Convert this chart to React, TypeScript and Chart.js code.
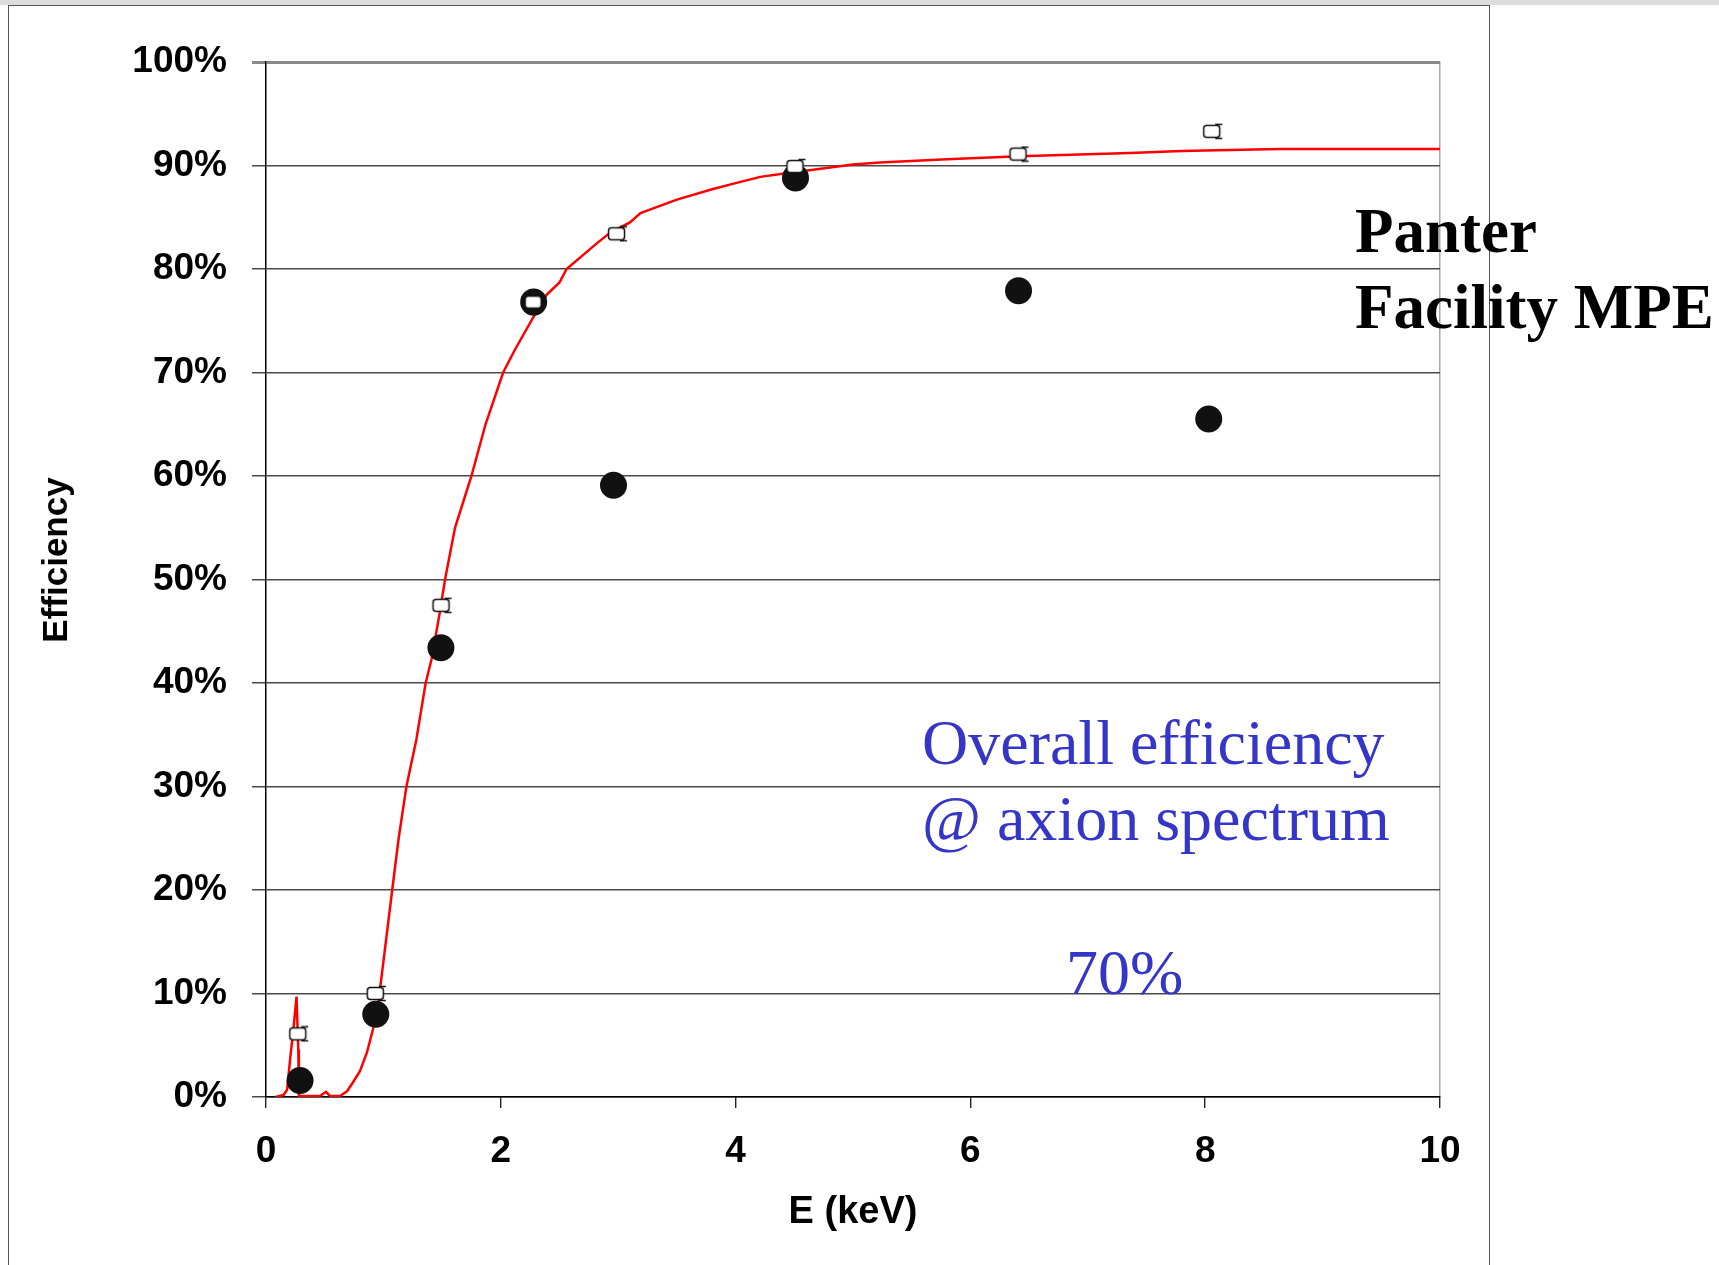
import React, { useEffect, useRef } from 'react';
import { Chart, registerables } from 'chart.js';

Chart.register(...registerables);

// ---- data ----
const curveEnergy = [
  0.08, 0.15, 0.18, 0.205, 0.233, 0.26, 0.275, 0.28, 0.46, 0.51, 0.545, 0.63, 0.69, 0.74, 0.8, 0.86,
  0.91, 0.96, 1.01, 1.075, 1.13, 1.196, 1.28, 1.36, 1.41, 1.48, 1.525, 1.61, 1.75, 1.87, 2.02, 2.12,
  2.28, 2.39, 2.5, 2.56, 2.82, 2.93, 3.1, 3.19, 3.5, 3.8, 4.0, 4.21, 4.4, 4.66, 5.0, 5.23, 5.8,
  6.42, 7.36, 7.8, 8.63, 10.0,
];
const curveEff = [
  0, 0.2, 0.7, 3.6, 6.5, 9.7, 4.6, 0.1, 0.1, 0.5, 0.1, 0.1, 0.55, 1.4, 2.5, 4.3,
  6.5, 9.4, 14.0, 20, 25, 30, 34.5, 40, 42.3, 46.8, 50, 55, 60, 65, 70, 72.2,
  75.4, 77.5, 78.7, 80.0, 82.5, 83.5, 84.5, 85.4, 86.7, 87.7, 88.3, 88.9, 89.2, 89.6, 90.1, 90.3, 90.6,
  90.9, 91.2, 91.4, 91.6, 91.6,
];
const openEnergy = [0.275, 0.935, 1.495, 2.28, 2.99, 4.51, 6.41, 8.06];
const openEff = [6.1, 10.0, 47.5, 76.8, 83.4, 89.9, 91.1, 93.3];
const filledEnergy = [0.29, 0.935, 1.49, 2.28, 2.96, 4.51, 6.41, 8.03];
const filledEff = [1.6, 8.0, 43.4, 76.8, 59.1, 88.8, 77.9, 65.5];

const xTickValues = [0, 2, 4, 6, 8, 10];
const yTickValues = [0, 10, 20, 30, 40, 50, 60, 70, 80, 90, 100];

const xTitle = 'E (keV)';
const yTitle = 'Efficiency';
const facilityLines = ['Panter', 'Facility MPE'];
const noteLines = ['Overall efficiency', '@ axion spectrum'];
const noteValue = '70%';

const W = 1719;
const H = 1265;

function makeOpenMarker(): HTMLCanvasElement {
  const c = document.createElement('canvas');
  c.width = 22;
  c.height = 17;
  const g = c.getContext('2d')!;
  g.fillStyle = '#ffffff';
  g.strokeStyle = '#111111';
  g.lineWidth = 1.5;
  g.beginPath();
  if ((g as any).roundRect) (g as any).roundRect(2.5, 2.5, 16, 12, 3);
  else g.rect(2.5, 2.5, 16, 12);
  g.fill();
  g.stroke();
  g.beginPath();
  g.moveTo(14, 1.5);
  g.lineTo(21, 1.5);
  g.moveTo(14, 15.5);
  g.lineTo(21, 15.5);
  g.stroke();
  return c;
}

const annotationPlugin = {
  id: 'annotations',
  afterDraw(chart: any) {
    const ctx = chart.ctx as CanvasRenderingContext2D;
    ctx.save();
    // y axis title
    ctx.save();
    ctx.translate(57, 560);
    ctx.rotate(-Math.PI / 2);
    ctx.font = 'bold 35px "Liberation Sans", Arial, sans-serif';
    ctx.fillStyle = '#000';
    ctx.textAlign = 'center';
    ctx.textBaseline = 'middle';
    ctx.fillText(yTitle, 0, 0);
    ctx.restore();

    ctx.textAlign = 'left';
    ctx.textBaseline = 'alphabetic';
    ctx.fillStyle = '#000';
    ctx.font = 'bold 63px "Liberation Serif", "Times New Roman", serif';
    ctx.fillText(facilityLines[0], 1355, 252);
    ctx.fillText(facilityLines[1], 1355, 328);

    ctx.fillStyle = '#3535c8';
    ctx.font = '64px "Liberation Serif", "Times New Roman", serif';
    ctx.fillText(noteLines[0], 922, 764);
    ctx.fillText(noteLines[1], 922, 840);
    ctx.fillText(noteValue, 1066, 994);
    ctx.restore();
  },
};

export default function App() {
  const canvasRef = useRef<HTMLCanvasElement | null>(null);

  useEffect(() => {
    const canvas = canvasRef.current;
    if (!canvas) return;
    const openMarker = makeOpenMarker();
    const tickFont = { family: '"Liberation Sans", Arial, sans-serif', size: 37, weight: 'bold' as const };

    const chart = new Chart(canvas, {
      type: 'scatter',
      data: {
        datasets: [
          {
            label: 'open',
            data: openEnergy.map((x, i) => ({ x, y: openEff[i] })),
            pointStyle: openMarker as any,
            pointRadius: 9,
            showLine: false,
          },
          {
            label: 'filled',
            data: filledEnergy.map((x, i) => ({ x, y: filledEff[i] })),
            pointStyle: 'circle',
            pointRadius: 13.5,
            pointBackgroundColor: '#111111',
            pointBorderColor: '#111111',
            pointBorderWidth: 0,
            showLine: false,
          },
          {
            label: 'curve',
            data: curveEnergy.map((x, i) => ({ x, y: curveEff[i] })),
            showLine: true,
            borderColor: '#ff0000',
            borderWidth: 2.5,
            pointRadius: 0,
            tension: 0,
            fill: false,
          },
        ],
      },
      options: {
        animation: false,
        responsive: true,
        maintainAspectRatio: false,
        layout: { padding: { left: 0, top: 62, right: W - 1440, bottom: 0 } },
        plugins: {
          legend: { display: false },
          tooltip: { enabled: false },
        },
        scales: {
          x: {
            type: 'linear',
            min: 0,
            max: 10,
            afterBuildTicks: (s: any) => {
              s.ticks = xTickValues.map((v) => ({ value: v }));
            },
            afterFit: (s: any) => {
              s.height = H - 1097;
            },
            ticks: {
              font: tickFont,
              color: '#000',
              padding: 22,
              maxRotation: 0,
              callback: (v: any) => String(v),
            },
            grid: {
              drawOnChartArea: true,
              color: (c: any) => (c.tick && c.tick.value === 10 ? '#a8a8a8' : 'rgba(0,0,0,0)'),
              lineWidth: 1.5,
              tickColor: '#000',
              tickLength: 11,
              tickWidth: 1.2,
            },
            border: { display: true, color: '#000', width: 1.5 },
            title: {
              display: true,
              text: xTitle,
              color: '#000',
              font: { family: '"Liberation Sans", Arial, sans-serif', size: 38, weight: 'bold' },
              padding: { top: 0, bottom: 30 },
            },
          },
          y: {
            type: 'linear',
            min: 0,
            max: 100,
            afterBuildTicks: (s: any) => {
              s.ticks = yTickValues.map((v) => ({ value: v }));
            },
            afterFit: (s: any) => {
              s.width = 266;
            },
            ticks: {
              font: tickFont,
              color: '#000',
              padding: 25,
              callback: (v: any) => v + '%',
            },
            grid: {
              drawOnChartArea: true,
              color: (c: any) => (c.tick && c.tick.value === 100 ? '#8a8a8a' : '#4a4a4a'),
              lineWidth: (c: any) => (c.tick && c.tick.value === 100 ? 3 : 1.5),
              tickLength: 14,
            },
            border: { display: true, color: '#000', width: 1.5 },
          },
        },
      },
      plugins: [annotationPlugin],
    });
    return () => chart.destroy();
  }, []);

  return (
    <div style={{ position: 'absolute', left: 0, top: 0, width: W, height: H, background: '#fff', overflow: 'hidden' }}>
      <div style={{ position: 'absolute', left: 0, top: 0, width: W, height: 5, background: '#dcdcdc' }} />
      <div
        style={{
          position: 'absolute',
          left: 8,
          top: 5,
          width: 1482,
          height: H + 10,
          borderLeft: '1.5px solid #555',
          borderTop: '1.5px solid #555',
          borderRight: '1.5px solid #555',
          boxSizing: 'border-box',
        }}
      />
      <div style={{ position: 'absolute', left: 0, top: 0, width: W, height: H }}>
        <canvas ref={canvasRef} />
      </div>
    </div>
  );
}
